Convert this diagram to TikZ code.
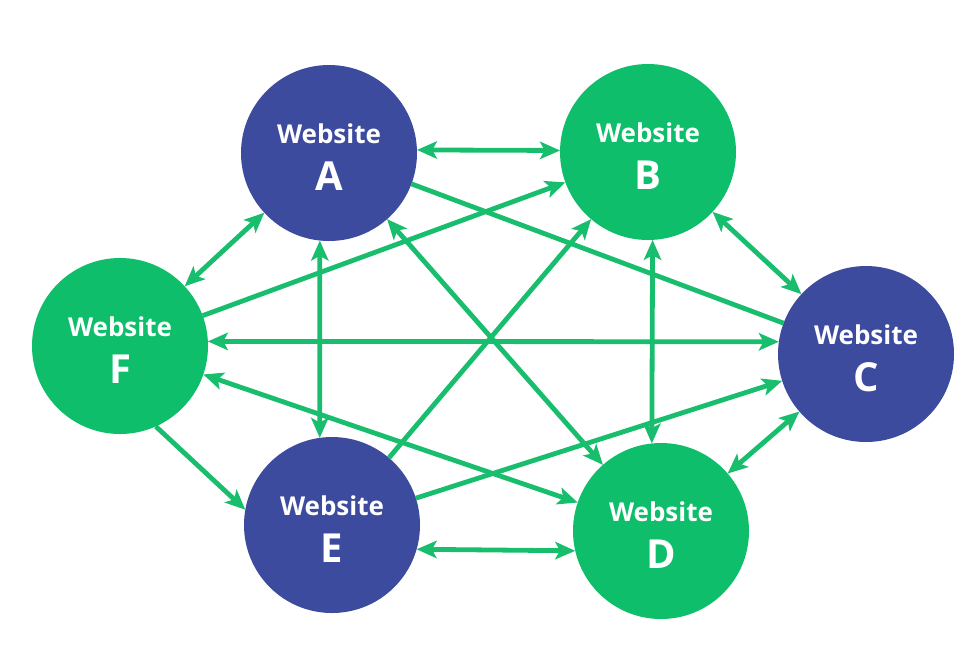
\documentclass[tikz,border=0pt]{standalone}
\usepackage{fontspec}
\setmainfont{Open Sans}
\usetikzlibrary{arrows.meta}
\definecolor{siteblue}{RGB}{61,75,158}
\definecolor{sitegreen}{RGB}{14,190,106}
\definecolor{linkgreen}{RGB}{24,190,110}
\tikzset{
	site/.style={circle, fill=#1, minimum size=132pt, inner sep=0pt, outer sep=0pt, text=white, align=center, font=\bfseries},
	link/.style={line width=3.6pt, color=linkgreen},
	tip/.style={-{Stealth[length=15pt,width=13pt,inset=3.5pt]}},
	tips/.style={{Stealth[length=15pt,width=13pt,inset=3.5pt]}-{Stealth[length=15pt,width=13pt,inset=3.5pt]}}
}
\newcommand{\sitetext}[1]{\fontsize{19.5}{24}\selectfont\rule{0pt}{21pt}Website\\[12pt]\fontsize{30}{24}\selectfont #1}
\begin{document}
\begin{tikzpicture}[x=0.75pt, y=-0.75pt]
		%%%%% START %%%%%
		\useasboundingbox[fill=white] (0, 0) rectangle (973, 651);
		
		\node[site=siteblue] (A) at (329, 153) {\sitetext{A}};
		\node[site=sitegreen] (B) at (648, 152) {\sitetext{B}};
		\node[site=siteblue] (C) at (866, 354) {\sitetext{C}};
		\node[site=sitegreen] (D) at (661, 531) {\sitetext{D}};
		\node[site=siteblue] (E) at (332, 525) {\sitetext{E}};
		\node[site=sitegreen] (F) at (120, 346) {\sitetext{F}};
		
		\draw[link, tips] (A.2) -- (B.179);
		\draw[link, tips] (A) -- (F);
		\draw[link, tips] (A.264) -- (E.98);
		\draw[link, tips] (A) -- (D);
		\draw[link] (A) -- (C);
		
		\draw[link, tips] (B) -- (C);
		\draw[link, tips] (B.273) -- (D.96);
		\draw[link, tip] (F) -- (B);
		\draw[link, tip] (E) -- (B);
		
		\draw[link, tips] (F.3) -- (C.172);
		\draw[link, tips] (C) -- (D);
		\draw[link, tip] (E) -- (C);
		
		\draw[link, tips] (E.-16) -- (D.193);
		\draw[link, tips] (F) -- (D);
		\draw[link, tip] (F.-66) -- (E.170);
		%%%%% END %%%%%
	\end{tikzpicture}
\end{document}
